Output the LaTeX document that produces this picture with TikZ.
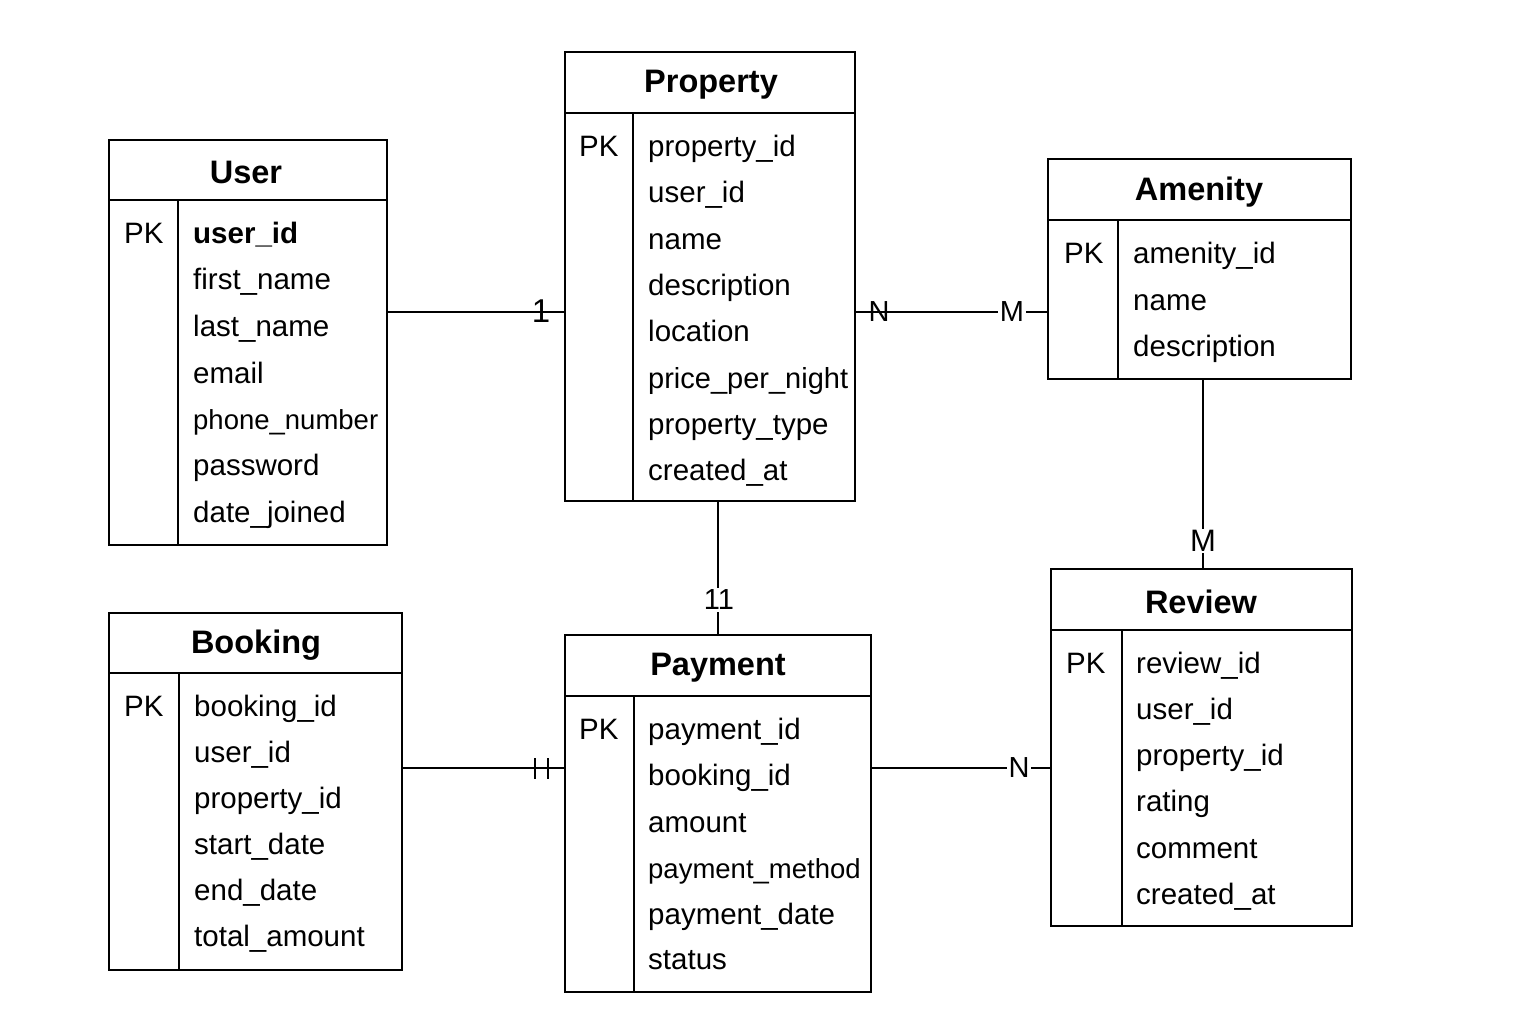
\documentclass[tikz,border=0pt]{standalone}
\usepackage{fontspec}
\setmainfont{Liberation Sans}
\usetikzlibrary{fit}
\begin{document}
\begin{tikzpicture}[x=1pt,y=-1pt,
  ebox/.style={draw, line width=2pt, inner sep=0pt},
  sep/.style={line width=2pt},
  conn/.style={line width=2pt},
  ttl/.style={font=\fontsize{32.5}{38}\selectfont\bfseries, inner sep=0pt},
  row/.style={font=\fontsize{29.5}{34}\selectfont, inner sep=0pt, anchor=base west},
  srow/.style={font=\fontsize{27.5}{32}\selectfont, inner sep=0pt, anchor=base west},
  lbl/.style={font=\fontsize{29}{34}\selectfont, inner sep=2pt},
  lblw/.style={lbl, fill=white},
  slbl/.style={font=\fontsize{33}{38}\selectfont, inner sep=0pt}
]
\useasboundingbox (0,0) rectangle (1536,1024);
\fill[white] (0,0) rectangle (1536,1024);

% ---------- User ----------
\node[ebox, fit={(109,140) (387,545)}] (user) {};
\draw[sep] (109,200) -- (387,200);
\draw[sep] (178,200) -- (178,545);
\node[ttl] (usert) at (246,172) {User};
\node[row] (upk) at (124,244) {PK};
\node[row, font=\fontsize{29.5}{34}\selectfont\bfseries] (u1) at (193,244) {user\_id};
\node[row] (u2) at (193,290) {first\_name};
\node[row] (u3) at (193,336) {last\_name};
\node[row] (u4) at (193,383) {email};
\node[srow] (u5) at (193,429) {phone\_number};
\node[row] (u6) at (193,475) {password};
\node[row] (u7) at (193,522) {date\_joined};

% ---------- Property ----------
\node[ebox, fit={(565,52) (855,501)}] (property) {};
\draw[sep] (565,113) -- (855,113);
\draw[sep] (633,113) -- (633,501);
\node[ttl] (propt) at (711,85) {Property};
\node[row] (ppk) at (579,157) {PK};
\node[row] (p1) at (648,157) {property\_id};
\node[row] (p2) at (648,203) {user\_id};
\node[row] (p3) at (648,250) {name};
\node[row] (p4) at (648,295) {description};
\node[row] (p5) at (648,341) {location};
\node[row, font=\fontsize{29}{34}\selectfont] (p6) at (648,388) {price\_per\_night};
\node[row] (p7) at (648,434) {property\_type};
\node[row] (p8) at (648,480) {created\_at};

% ---------- Amenity ----------
\node[ebox, fit={(1048,159) (1351,379)}] (amenity) {};
\draw[sep] (1048,220) -- (1351,220);
\draw[sep] (1118,220) -- (1118,379);
\node[ttl] (amt) at (1199,192) {Amenity};
\node[row] (apk) at (1064,264) {PK};
\node[row] (a1) at (1133,264) {amenity\_id};
\node[row] (a2) at (1133,310) {name};
\node[row] (a3) at (1133,356) {description};

% ---------- Review ----------
\node[ebox, fit={(1051,569) (1352,926)}] (review) {};
\draw[sep] (1051,630) -- (1352,630);
\draw[sep] (1122,630) -- (1122,926);
\node[ttl] (revt) at (1201,602) {Review};
\node[row] (rpk) at (1066,673) {PK};
\node[row] (r1) at (1136,673) {review\_id};
\node[row] (r2) at (1136,719) {user\_id};
\node[row] (r3) at (1136,765) {property\_id};
\node[row] (r4) at (1136,811) {rating};
\node[row] (r5) at (1136,858) {comment};
\node[row] (r6) at (1136,904) {created\_at};

% ---------- Booking ----------
\node[ebox, fit={(109,613) (402,970)}] (booking) {};
\draw[sep] (109,673) -- (402,673);
\draw[sep] (179,673) -- (179,970);
\node[ttl] (bookt) at (256,645) {Booking};
\node[row] (bpk) at (124,716) {PK};
\node[row] (b1) at (194,716) {booking\_id};
\node[row] (b2) at (194,762) {user\_id};
\node[row] (b3) at (194,808) {property\_id};
\node[row] (b4) at (194,854) {start\_date};
\node[row] (b5) at (194,900) {end\_date};
\node[row] (b6) at (194,946) {total\_amount};

% ---------- Payment ----------
\node[ebox, fit={(565,635) (871,992)}] (payment) {};
\draw[sep] (565,696) -- (871,696);
\draw[sep] (634,696) -- (634,992);
\node[ttl] (payt) at (718,668) {Payment};
\node[row] (ypk) at (579,739) {PK};
\node[row] (y1) at (648,739) {payment\_id};
\node[row] (y2) at (648,785) {booking\_id};
\node[row] (y3) at (648,832) {amount};
\node[srow] (y4) at (648,878) {payment\_method};
\node[row] (y5) at (648,924) {payment\_date};
\node[row] (y6) at (648,969) {status};

% ---------- Connectors ----------
% User - Property
\draw[conn] (user.east |- 0,312) -- (property.west |- 0,312);
\node[slbl] (l1) at (541,311) {1};

% Property - Amenity
\draw[conn] (property.east |- 0,312) -- (amenity.west |- 0,312);
\node[lbl] (lN1) at (879,312) {N};
\node[lblw] (lM1) at (1012,312) {M};

% Amenity - Review
\draw[conn] (amenity.south -| 1203,0) -- (review.north -| 1203,0);
\node[slbl, font=\fontsize{31}{36}\selectfont, fill=white, inner sep=1pt] (lM2) at (1203,541) {M};

% Property - Payment
\draw[conn] (property.south -| 718,0) -- (payment.north -| 718,0);
\node[lblw] (l11) at (719,600) {11};

% Booking - Payment
\draw[conn] (booking.east |- 0,768) -- (payment.west |- 0,768);
\draw[conn] (535,758) -- (535,779);
\draw[conn] (548,758) -- (548,779);

% Payment - Review
\draw[conn] (payment.east |- 0,768) -- (review.west |- 0,768);
\node[lblw] (lN2) at (1019,768) {N};
\end{tikzpicture}
\end{document}
